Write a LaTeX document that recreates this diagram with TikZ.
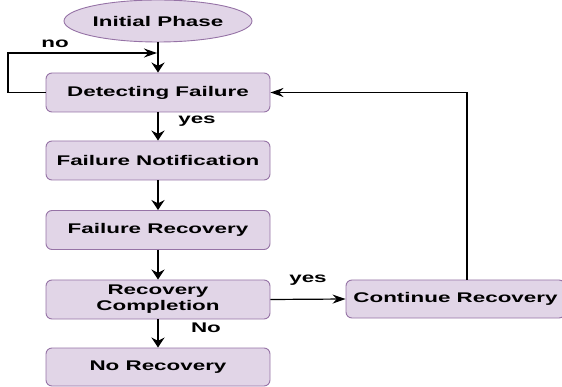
\documentclass[tikz,border=0pt]{standalone}
\usepackage{fontspec}
\setmainfont[FakeStretch=1.6]{Liberation Sans}
\usetikzlibrary{arrows.meta,shapes.geometric}
\definecolor{boxfill}{HTML}{E1D5E7}
\definecolor{boxline}{HTML}{9673A6}
\begin{document}
\begin{tikzpicture}[x=1pt,y=-1pt,
  lbl/.style={font=\fontsize{14}{16}\selectfont\bfseries, inner sep=0pt},
  stepbox/.style={lbl, draw=boxline, fill=boxfill, rounded corners=6pt,
    minimum width=224pt, minimum height=39pt, line width=0.9pt, align=center},
  startnode/.style={lbl, ellipse, draw=boxline, fill=boxfill,
    minimum width=188pt, minimum height=42pt, line width=0.9pt},
  flow/.style={draw=black, line width=2pt, -{Stealth[length=10pt,width=13pt]}},
  link/.style={draw=black, line width=1.2pt, -{Stealth[length=13pt,width=9pt]}}
]
\clip (0,0) rectangle (562,387);

% process steps
\node[startnode] (init)   at (158,21)    {Initial Phase};
\node[stepbox]   (detect) at (158,92.5)  {Detecting Failure};
\node[stepbox]   (notify) at (158,160.5) {Failure Notification};
\node[stepbox]   (recov)  at (158,230)   {Failure Recovery};
\node[stepbox]   (compl)  at (158,299.5) {Recovery\\Completion};
\node[stepbox, minimum height=38pt] (norec) at (158,367) {No Recovery};
\node[stepbox, minimum width=219pt, minimum height=38pt] (cont) at (455.5,299) {Continue Recovery};

% main flow
\draw[flow] (init) -- (detect);
\draw[flow] (detect) -- (notify);
\draw[flow] (notify) -- (recov);
\draw[flow] (recov) -- (compl);
\draw[flow] (compl) -- (norec);

% retry loop on the detection step
\coordinate (loopT) at (8,53);
\coordinate (merge) at (157,53);
\draw[link] (detect.west) -| (loopT) -- (merge);

% branch to continued recovery and back
\draw[link] (compl.east) -- (cont.west);
\draw[link] ([xshift=11.5pt]cont.north) |- (detect.east);

% branch labels
\node[lbl] (lno)   at (55,44)   {no};
\node[lbl] (lyes1) at (197,121) {yes};
\node[lbl] (lyes2) at (308,280) {yes};
\node[lbl] (lNo)   at (206,328) {No};
\end{tikzpicture}
\end{document}
